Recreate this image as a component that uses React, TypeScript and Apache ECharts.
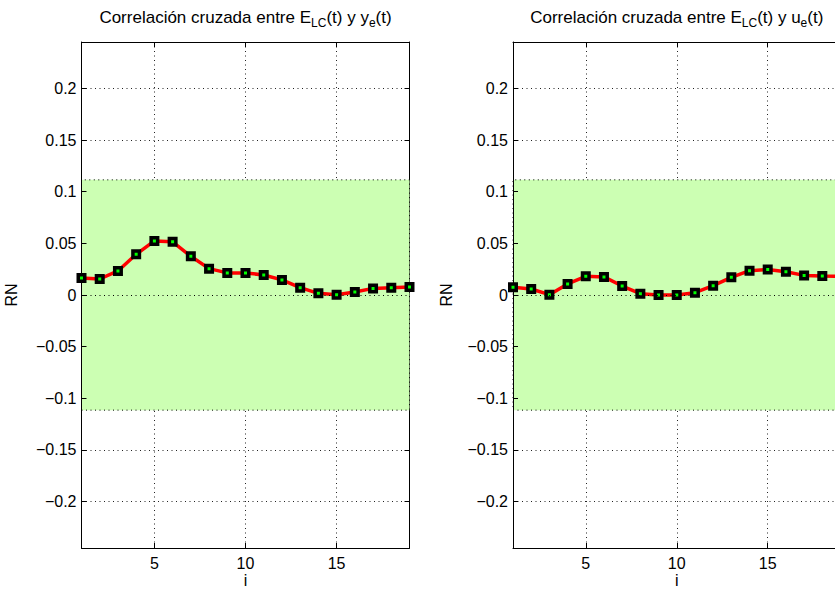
import React, { useEffect, useRef } from 'react';
import * as echarts from 'echarts';

// Lags (i)
const lags = [1, 2, 3, 4, 5, 6, 7, 8, 9, 10, 11, 12, 13, 14, 15, 16, 17, 18, 19];

// Normalised cross-correlation E_LC(t) vs y_e(t)
const leftValues = [
  0.0165, 0.0155, 0.0233, 0.0394, 0.0524, 0.0515, 0.0375, 0.0255, 0.0214, 0.0214,
  0.0194, 0.0146, 0.0071, 0.0016, 0.0003, 0.0029, 0.0064, 0.0071, 0.0078,
];

// Normalised cross-correlation E_LC(t) vs u_e(t)
const rightValues = [
  0.0074, 0.0058, 0.0003, 0.0107, 0.0181, 0.0175, 0.0087, 0.0013, 0.0, 0.0,
  0.0022, 0.009, 0.0171, 0.0236, 0.0246, 0.0226, 0.019, 0.0184, 0.018,
];

const confLimit = 0.1115;
const yLimit = 0.245;
const xMin = 1;
const xMax = 19;

const xTickValues = [5, 10, 15];
const yTickValues = [-0.2, -0.15, -0.1, -0.05, 0, 0.05, 0.1, 0.15, 0.2];
const yTickLabels = ['−0.2', '−0.15', '−0.1', '−0.05', '0', '0.05', '0.1', '0.15', '0.2'];

const titles = [
  '{m|Correlación cruzada entre E}{s|LC}{m|(t) y y}{s|e}{m|(t)}',
  '{m|Correlación cruzada entre E}{s|LC}{m|(t) y u}{s|e}{m|(t)}',
];

const FONT = '"Liberation Sans", Arial, Helvetica, sans-serif';

const panels = [
  { left: 81.5, width: 328, values: leftValues, nameGap: 62 },
  { left: 513, width: 327.5, values: rightValues, nameGap: 59 },
];
const gridTop = 42;
const gridHeight = 506;

function yFormatter(v: number) {
  const k = yTickValues.findIndex((t) => Math.abs(t - v) < 1e-9);
  return k >= 0 ? yTickLabels[k] : '';
}

function buildOption() {
  const grid: any[] = [];
  const xAxis: any[] = [];
  const yAxis: any[] = [];
  const series: any[] = [];
  const title: any[] = [];

  panels.forEach((p, i) => {
    grid.push({
      left: p.left,
      top: gridTop,
      width: p.width,
      height: gridHeight,
      containLabel: false,
      outerBoundsMode: 'none',
    });

    const dotted = { type: [1, 3.5], color: '#222', width: 1 };

    xAxis.push({
      type: 'value',
      gridIndex: i,
      min: xMin,
      max: xMax,
      position: 'bottom',
      name: 'i',
      nameLocation: 'middle',
      nameGap: 24,
      nameMoveOverlap: false,
      nameTextStyle: { fontSize: 16, lineHeight: 16, color: '#000', fontFamily: FONT },
      axisLine: { show: true, onZero: false, lineStyle: { color: '#000', width: 1 } },
      axisTick: { show: true, inside: true, length: 5, customValues: xTickValues, lineStyle: { color: '#000' } },
      axisLabel: { show: true, customValues: xTickValues, fontSize: 16, color: '#000', margin: 7, fontFamily: FONT },
      splitLine: { show: true, lineStyle: dotted },
    });
    xAxis.push({
      type: 'value',
      gridIndex: i,
      min: xMin,
      max: xMax,
      position: 'top',
      axisLine: { show: true, onZero: false, lineStyle: { color: '#000', width: 1 } },
      axisTick: { show: true, inside: true, length: 5, customValues: xTickValues, lineStyle: { color: '#000' } },
      axisLabel: { show: false },
      splitLine: { show: false },
    });

    yAxis.push({
      type: 'value',
      gridIndex: i,
      min: -yLimit,
      max: yLimit,
      position: 'left',
      z: 1.5,
      name: 'RN',
      nameLocation: 'middle',
      nameGap: p.nameGap,
      nameMoveOverlap: false,
      nameTextStyle: { fontSize: 16, color: '#000', fontFamily: FONT },
      axisLine: { show: true, onZero: false, lineStyle: { color: '#000', width: 1 } },
      axisTick: { show: true, inside: true, length: 5, customValues: yTickValues, lineStyle: { color: '#000' } },
      axisLabel: { show: true, customValues: yTickValues, formatter: yFormatter, fontSize: 16, color: '#000', margin: 5, fontFamily: FONT },
      splitLine: { show: false },
    });
    yAxis.push({
      type: 'value',
      gridIndex: i,
      min: -yLimit,
      max: yLimit,
      position: 'right',
      axisLine: { show: true, onZero: false, lineStyle: { color: '#000', width: 1 } },
      axisTick: { show: true, inside: true, length: 5, customValues: yTickValues, lineStyle: { color: '#000' } },
      axisLabel: { show: false },
      splitLine: { show: true, lineStyle: dotted },
    });

    series.push({
      type: 'line',
      xAxisIndex: 2 * i,
      yAxisIndex: 2 * i,
      z: 2,
      data: lags.map((x, k) => [x, p.values[k]]),
      showAllSymbol: true,
      symbol: 'rect',
      symbolSize: 6.5,
      lineStyle: { color: '#ff0000', width: 3.5 },
      itemStyle: { color: '#00ff00', borderColor: '#000', borderWidth: 3.5 },
      emphasis: { disabled: true },
      clip: false,
      markArea: {
        silent: true,
        z: 1,
        itemStyle: { color: '#ccffb3', borderColor: '#000', borderWidth: 1, borderType: [1, 3.5] },
        data: [[{ yAxis: -confLimit }, { yAxis: confLimit }]],
      },
      markLine: {
        silent: true,
        symbol: ['none', 'none'],
        label: { show: false },
        lineStyle: { type: [1, 3.5], color: '#000', width: 1 },
        data: [{ yAxis: 0 }],
      },
    });

    title.push({
      text: titles[i],
      left: p.left + p.width / 2,
      top: 5,
      textAlign: 'center',
      padding: 0,
      textStyle: {
        fontFamily: FONT,
        fontWeight: 'normal',
        rich: {
          m: { fontSize: 17, fontWeight: 'normal', color: '#000', fontFamily: FONT, lineHeight: 24 },
          s: { fontSize: 12, fontWeight: 'normal', color: '#000', fontFamily: FONT, lineHeight: 8, verticalAlign: 'bottom' },
        },
      },
    });
  });

  return {
    animation: false,
    backgroundColor: '#ffffff',
    textStyle: { fontFamily: FONT },
    title,
    grid,
    xAxis,
    yAxis,
    series,
  };
}

export default function App() {
  const ref = useRef<HTMLDivElement>(null);
  useEffect(() => {
    if (!ref.current) return;
    const chart = echarts.init(ref.current, null, { renderer: 'svg' });
    chart.setOption(buildOption() as any);
    return () => chart.dispose();
  }, []);
  return (
    <div
      ref={ref}
      style={{ position: 'absolute', left: 0, top: 0, width: 835, height: 590, background: '#fff' }}
    />
  );
}
